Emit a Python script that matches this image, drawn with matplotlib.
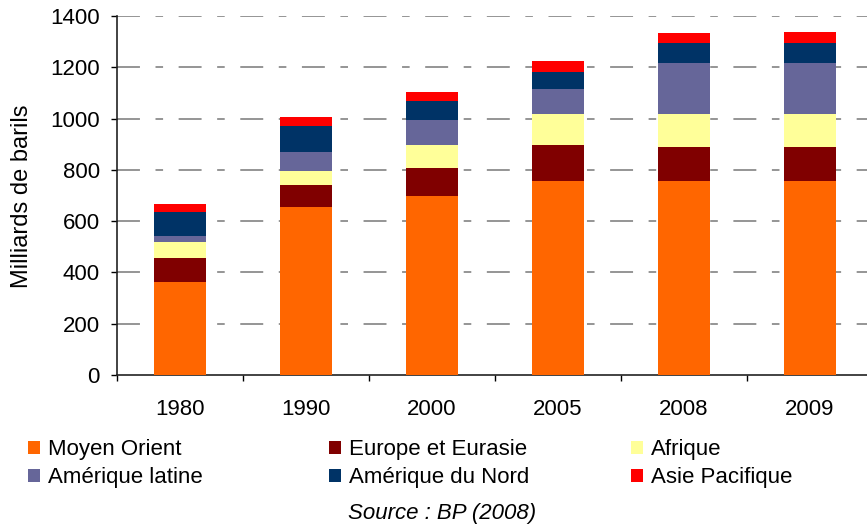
import numpy as np
import matplotlib
matplotlib.use("Agg")
import matplotlib.pyplot as plt
from matplotlib.patches import Patch

plt.rcParams['font.family'] = ['Liberation Sans', 'DejaVu Sans']

# réserves prouvées de pétrole, milliards de barils
years = ['1980', '1990', '2000', '2005', '2008', '2009']
moyen_orient = [362, 657, 700, 758, 758, 758]
europe_eurasie = [96, 85, 109, 140, 132, 132]
afrique = [59, 55, 89, 121, 129, 129]
amerique_latine = [27, 74, 98, 97, 199, 199]
amerique_nord = [93, 101, 74, 67, 78, 78]
asie_pacifique = [31, 35, 35, 42, 38, 42]

series = [moyen_orient, europe_eurasie, afrique, amerique_latine, amerique_nord, asie_pacifique]
names = ['Moyen Orient', 'Europe et Eurasie', 'Afrique',
         'Amérique latine', 'Amérique du Nord', 'Asie Pacifique']
colors = ['#FF6600', '#800000', '#FFFF99', '#666699', '#003366', '#FF0000']

W, H = 867, 525
fs = 16
fig = plt.figure(figsize=(W / 100, H / 100), dpi=100)
ax = fig.add_axes([117 / W, (H - 375) / H, 756 / W, 359 / H])

x = np.arange(len(years))
bottom = np.zeros(len(years))
for vals, c in zip(series, colors):
    ax.bar(x, vals, width=0.42, bottom=bottom, color=c, zorder=3)
    bottom += np.array(vals)

ax.set_xlim(-0.5, len(years) - 0.5)
ax.set_ylim(0, 1400)
ax.set_yticks(range(0, 1401, 200))
ax.set_xticks(x)
ax.set_xticklabels(years)
ax.set_xticks(np.arange(-0.5, len(years), 1), minor=True)
ax.tick_params(axis='x', which='major', length=0, labelsize=fs, pad=17)
ax.tick_params(axis='x', which='minor', length=4.5, width=1, direction='out')
ax.tick_params(axis='y', length=4.5, width=1, labelsize=fs, pad=8)

for s in ['top', 'right']:
    ax.spines[s].set_visible(False)
for s in ['left', 'bottom']:
    ax.spines[s].set_linewidth(1.2)
    ax.spines[s].set_color('#222222')

for v in range(200, 1401, 200):
    ax.axhline(v, color='#959595', linewidth=1.4, zorder=1,
               linestyle=(0, (11.8, 8, 3.9, 8)))

fig.text(22 / W, 1 - 196 / H, 'Milliards de barils', rotation=90,
         fontsize=17, ha='center', va='center')

# légende sur trois colonnes
col_x = [24, 325, 627]
for i, cx in enumerate(col_x):
    hs = [Patch(facecolor=colors[i]), Patch(facecolor=colors[i + 3])]
    fig.legend(hs, [names[i], names[i + 3]], loc='upper left',
               bbox_to_anchor=(cx / W, 1 - 435 / H), frameon=False,
               fontsize=fs, handlelength=0.5, handleheight=0.5,
               handletextpad=0.4, labelspacing=0.3, borderaxespad=0,
               borderpad=0.2)

fig.text(442 / W, 1 - 513 / H, 'Source : BP (2008)', style='italic',
         fontsize=fs, ha='center', va='center')

fig.savefig('out.png', dpi=100)
